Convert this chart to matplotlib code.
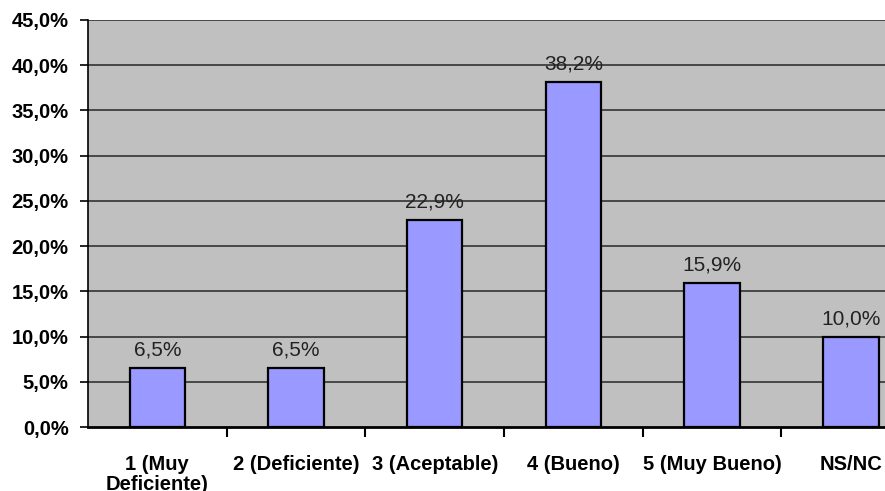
import matplotlib
matplotlib.use("Agg")
import matplotlib.pyplot as plt
from matplotlib.ticker import FixedLocator

plt.rcParams['font.family'] = ['Liberation Sans', 'DejaVu Sans']

categories = ["1 (Muy\nDeficiente)", "2 (Deficiente)", "3 (Aceptable)",
              "4 (Bueno)", "5 (Muy Bueno)", "NS/NC"]
values = [6.5, 6.5, 22.9, 38.2, 15.9, 10.0]
y_ticks = [0, 5, 10, 15, 20, 25, 30, 35, 40, 45]

W, H = 885, 491
fig = plt.figure(figsize=(W / 100, H / 100), dpi=100)
left, right, top, bottom = 88, 885, 20, 427
ax = fig.add_axes([left / W, 1 - bottom / H, (right - left) / W, (bottom - top) / H])

ax.set_facecolor("#C0C0C0")
x = list(range(len(categories)))
step = 138.7
ax.set_xlim(-0.5, -0.5 + (right - left) / step)
ax.set_ylim(0, 45)

ax.bar(x, values, width=0.4, color="#9999FF", edgecolor="black", linewidth=1.6, zorder=3)

for xi, v in zip(x, values):
    ax.annotate(f"{v:.1f}%".replace(".", ","), (xi, v), xytext=(0, 6),
                textcoords="offset points", ha="center", va="bottom",
                fontsize=15, color="#222222", zorder=4)

# horizontal gridlines
for t in y_ticks[1:]:
    ax.axhline(t, color="#333333", linewidth=1.2, zorder=1)

ax.set_yticks(y_ticks)
ax.set_yticklabels([f"{t:.1f}%".replace(".", ",") for t in y_ticks],
                   fontsize=14.5, fontweight="bold")
ax.tick_params(axis="y", direction="out", length=6, width=1.2, pad=8, colors="black")

# category boundaries as tick marks, names centred under each bar
ax.xaxis.set_major_locator(FixedLocator([i + 0.5 for i in range(len(categories) - 1)]))
ax.xaxis.set_major_formatter(plt.NullFormatter())
ax.xaxis.set_minor_locator(FixedLocator(x))
ax.set_xticklabels(categories, minor=True, fontsize=14.5, fontweight="bold",
                   linespacing=1.1)
ax.tick_params(axis="x", which="minor", length=0, pad=20)
ax.tick_params(axis="x", which="major", direction="out", length=7, width=1.5)

for s in ["top", "right"]:
    ax.spines[s].set_visible(False)
ax.spines["left"].set_linewidth(1.2)
ax.spines["bottom"].set_linewidth(2.0)
ax.spines["left"].set_zorder(5)
ax.spines["bottom"].set_zorder(5)

fig.savefig("out.png", dpi=100)
